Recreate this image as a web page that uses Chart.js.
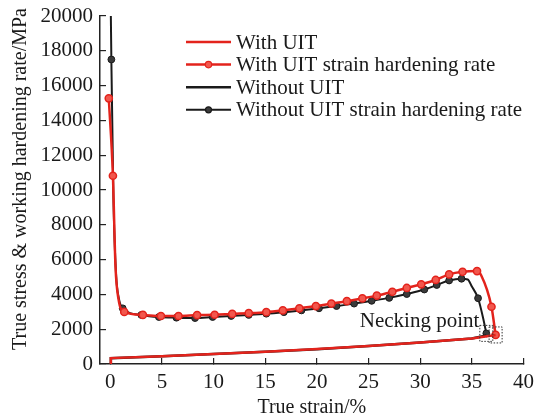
<!DOCTYPE html>
<html>
<head>
<meta charset="utf-8">
<script src="https://cdn.jsdelivr.net/npm/chart.js@4.4.0/dist/chart.umd.min.js"></script>
<style>
  html, body { margin: 0; padding: 0; background: #fff; }
</style>
</head>
<body>
<canvas id="curveChart" width="546" height="420"></canvas>
<script>
// Tick values on the strain axis
const strainTicks = [0, 5, 10, 15, 20, 25, 30, 35, 40];

// True stress vs. true strain
const stressStrainWith = [0, 0.05, 5, 10, 15, 20, 25, 30, 35, 37.3];
const stressWith = [0, 340, 450, 580, 710, 860, 1040, 1240, 1470, 1670];
const stressStrainWithout = [0, 0.05, 5, 10, 15, 20, 25, 30, 35, 36.4];
const stressWithout = [0, 330, 440, 570, 700, 850, 1030, 1230, 1460, 1640];

// Work hardening rate vs. true strain
const rateStrainWith = [-0.15, 0.25, 0.5, 0.8, 1.35, 3.15, 4.9, 6.6, 8.4, 10.1, 11.8, 13.4, 15.1,
  16.7, 18.3, 19.9, 21.4, 22.9, 24.4, 25.8, 27.3, 28.7, 30.1, 31.5, 32.8, 34.1, 35.5, 35.9, 36.9, 37.3];
const rateWith = [15270, 10820, 5600, 3700, 2990, 2820, 2760, 2760, 2810, 2830, 2880, 2920, 2980,
  3080, 3200, 3330, 3470, 3610, 3770, 3930, 4150, 4370, 4580, 4830, 5150, 5300, 5340, 5100, 3290, 1670];
const plainWith = [2, 3, 27];

const rateStrainWithout = [0.05, 0.1, 0.3, 0.55, 0.85, 1.2, 3.0, 4.7, 6.4, 8.2, 9.9, 11.7, 13.4, 15.1,
  16.8, 18.5, 20.2, 21.9, 23.6, 25.3, 27.0, 28.7, 30.4, 31.6, 32.8, 34.0, 34.6, 35.0, 35.6, 36.1, 36.4];
const rateWithout = [20000, 17500, 9500, 5200, 3700, 3200, 2820, 2700, 2660, 2640, 2700, 2760, 2820, 2890,
  2980, 3080, 3200, 3330, 3470, 3630, 3800, 4020, 4280, 4540, 4800, 4900, 4860, 4450, 3780, 2620, 1760];
const plainWithout = [0, 2, 3, 4, 26, 27, 29];

const RED = '#e3231c';
const BLACK = '#1a1a1a';
const FONT = '"Liberation Serif", "Times New Roman", serif';

function toPoints(xs, ys) {
  return xs.map((x, i) => ({ x: x, y: ys[i] }));
}

function markerRadius(plain, r) {
  return ctx => plain.includes(ctx.dataIndex) ? 0 : r;
}

// legend, y axis title and the necking point note
const overlay = {
  id: 'overlay',
  afterDraw(chart) {
    const ctx = chart.ctx;
    const xs = chart.scales.x;
    const ys = chart.scales.y;
    ctx.save();

    ctx.font = '21px ' + FONT;
    ctx.textBaseline = 'middle';
    chart.data.datasets.forEach((ds, i) => {
      const y = 42 + i * 22.6;
      ctx.strokeStyle = ds.borderColor;
      ctx.lineWidth = ds.borderWidth;
      ctx.beginPath();
      ctx.moveTo(186, y);
      ctx.lineTo(231, y);
      ctx.stroke();
      if (ds.legendMarker) {
        ctx.beginPath();
        ctx.arc(208.5, y, ds.legendMarker, 0, Math.PI * 2);
        ctx.fillStyle = ds.pointBackgroundColor;
        ctx.fill();
        ctx.lineWidth = 1.2;
        ctx.strokeStyle = ds.pointBorderColor;
        ctx.stroke();
      }
      ctx.fillStyle = '#1a1a1a';
      ctx.fillText(ds.label, 236, y + 1);
    });

    // rotated y axis title
    ctx.save();
    ctx.translate(21, 179);
    ctx.rotate(-Math.PI / 2);
    ctx.textAlign = 'center';
    ctx.font = '20px ' + FONT;
    ctx.fillText('True stress & working hardening rate/MPa', 0, 0);
    ctx.restore();

    // dotted boxes around the end of each hardening curve
    ctx.setLineDash([1.5, 1.5]);
    ctx.lineWidth = 1;
    ctx.strokeStyle = '#333';
    [rateStrainWithout, rateStrainWith].forEach((xsArr, k) => {
      const vals = k === 0 ? rateWithout : rateWith;
      const px = xs.getPixelForValue(xsArr[xsArr.length - 1]);
      const py = ys.getPixelForValue(vals[vals.length - 1]);
      ctx.strokeRect(px - 6.5, py - 8, 13, 16);
    });
    ctx.setLineDash([]);

    const nx = xs.getPixelForValue(rateStrainWithout[rateStrainWithout.length - 1]);
    const ny = ys.getPixelForValue(rateWithout[rateWithout.length - 1]);
    ctx.textAlign = 'right';
    ctx.textBaseline = 'alphabetic';
    ctx.fillStyle = '#1a1a1a';
    ctx.font = '21px ' + FONT;
    ctx.fillText('Necking point', nx - 7, ny - 6);
    ctx.restore();
  }
};

new Chart(document.getElementById('curveChart'), {
  type: 'line',
  data: {
    datasets: [
      {
        label: 'With UIT',
        data: toPoints(stressStrainWith, stressWith),
        borderColor: RED,
        borderWidth: 2.5,
        pointRadius: 0
      },
      {
        label: 'With UIT strain hardening rate',
        data: toPoints(rateStrainWith, rateWith),
        borderColor: RED,
        borderWidth: 2.5,
        cubicInterpolationMode: 'monotone',
        pointRadius: markerRadius(plainWith, 3.6),
        pointBackgroundColor: '#f2574d',
        pointBorderColor: RED,
        pointBorderWidth: 1.5,
        legendMarker: 3.2
      },
      {
        label: 'Without UIT',
        data: toPoints(stressStrainWithout, stressWithout),
        borderColor: BLACK,
        borderWidth: 2.5,
        pointRadius: 0
      },
      {
        label: 'Without UIT strain hardening rate',
        data: toPoints(rateStrainWithout, rateWithout),
        borderColor: BLACK,
        borderWidth: 2,
        cubicInterpolationMode: 'monotone',
        pointRadius: markerRadius(plainWithout, 3.4),
        pointBackgroundColor: '#3a3a3a',
        pointBorderColor: BLACK,
        pointBorderWidth: 1,
        legendMarker: 3
      }
    ]
  },
  options: {
    responsive: false,
    animation: false,
    layout: { padding: { top: 16, right: 13, left: 0, bottom: 0 } },
    plugins: {
      legend: { display: false },
      tooltip: { enabled: false }
    },
    scales: {
      x: {
        type: 'linear',
        min: -1,
        max: 40,
        afterBuildTicks: scale => { scale.ticks = strainTicks.map(v => ({ value: v })); },
        afterFit: scale => { scale.height = 56; },
        grid: { drawOnChartArea: false, tickLength: -6, color: '#222', lineWidth: 1.2 },
        border: { color: '#222', width: 1.5 },
        ticks: {
          padding: 12,
          color: '#1a1a1a',
          font: { family: FONT, size: 21 },
          maxRotation: 0
        },
        title: {
          display: true,
          text: 'True strain/%',
          color: '#1a1a1a',
          font: { family: FONT, size: 20 },
          padding: { top: 0, bottom: 0 }
        }
      },
      y: {
        min: 0,
        max: 20000,
        afterFit: scale => {
          scale.width = 100;
          scale.paddingTop = 0;
          scale.paddingBottom = 0;
        },
        grid: { drawOnChartArea: false, tickLength: -6, color: '#222', lineWidth: 1.2 },
        border: { color: '#222', width: 1.5 },
        ticks: {
          stepSize: 2000,
          padding: 13,
          color: '#1a1a1a',
          font: { family: FONT, size: 21 },
          callback: v => String(v)
        }
      }
    }
  },
  plugins: [overlay]
});
</script>
</body>
</html>
